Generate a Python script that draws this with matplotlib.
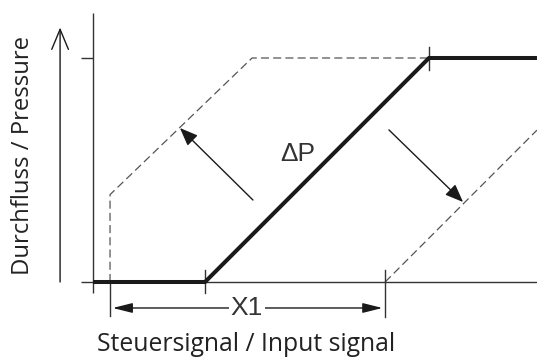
import matplotlib
matplotlib.use("Agg")
import matplotlib.pyplot as plt

plt.rcParams['lines.scale_dashes'] = False

# Characteristic curve data (input signal -> pressure, arbitrary units 0..100)
solid_x = [0, 50, 150, 198.2]
solid_y = [0, 0, 100, 100]

dash_left_x = [7.6, 7.6, 71, 150]
dash_left_y = [0, 39, 100, 100]

dash_right_x = [130.4, 198.2]
dash_right_y = [0, 67.8]

x1_start, x1_end = 7.6, 130.4
tick_positions = [50, 150]

ylabel = "Durchfluss / Pressure"
xlabel = "Steuersignal / Input signal"
curve_label = "ΔP"
dim_label = "X1"

W, H = 537, 360
fig = plt.figure(figsize=(W / 100, H / 100), dpi=100)
ax = fig.add_axes([0, 0, 1, 1])
ax.set_xlim(-41.52, 198.21)
ax.set_ylim(-34.82, 125.89)
ax.axis('off')

axis_col = '#333333'
# Axes lines
ax.plot([0, 0], [-4.9, 120], color=axis_col, lw=1.0, solid_capstyle='butt')
ax.plot([-5.4, 198.2], [0, 0], color=axis_col, lw=1.0, solid_capstyle='butt')
ax.plot([-5.4, 0], [100, 100], color=axis_col, lw=1.0, solid_capstyle='butt')

# Dashed shifted curves
ax.plot(dash_left_x, dash_left_y, color='#555555', lw=0.9, dashes=(5.8, 3.0))
ax.plot(dash_right_x, dash_right_y, color='#555555', lw=0.9, dashes=(5.8, 3.0))

# Main curve
ax.plot(solid_x, solid_y, color='#1a1a1a', lw=2.9, solid_joinstyle='miter',
        solid_capstyle='butt', zorder=3)

# Ticks on main curve
ax.plot([tick_positions[0]] * 2, [5.4, -4.9], color=axis_col, lw=1.0)
ax.plot([tick_positions[1]] * 2, [104.9, 94.6], color=axis_col, lw=1.0)

# X1 extension lines
ax.plot([x1_start] * 2, [0, -15.2], color=axis_col, lw=1.0)
ax.plot([x1_end] * 2, [5.4, -15.6], color=axis_col, lw=1.0)

# Dimension arrow
dim_y = -11.6
ax.annotate('', xy=(x1_start + 1.2, dim_y), xytext=((x1_start + x1_end) / 2, dim_y),
            arrowprops=dict(arrowstyle='-|>,head_length=0.6,head_width=0.15',
                            mutation_scale=20, color='#1a1a1a', lw=1.0,
                            shrinkA=0, shrinkB=0))
ax.annotate('', xy=(x1_end - 1.2, dim_y), xytext=((x1_start + x1_end) / 2, dim_y),
            arrowprops=dict(arrowstyle='-|>,head_length=0.6,head_width=0.15',
                            mutation_scale=20, color='#1a1a1a', lw=1.0,
                            shrinkA=0, shrinkB=0))
ax.text(68.75, dim_y, dim_label, fontsize=19, family='Liberation Sans',
        color='#333333', ha='center', va='center', zorder=5,
        bbox=dict(facecolor='white', edgecolor='none', pad=1.5))

# Shift arrows
ax.annotate('', xy=(38.8, 68.75), xytext=(71.4, 36.6),
            arrowprops=dict(arrowstyle='-|>,head_length=0.55,head_width=0.22',
                            mutation_scale=20, color='#1a1a1a', lw=1.0,
                            shrinkA=0, shrinkB=0))
ax.annotate('', xy=(165.2, 35.7), xytext=(132.1, 67.9),
            arrowprops=dict(arrowstyle='-|>,head_length=0.55,head_width=0.22',
                            mutation_scale=20, color='#1a1a1a', lw=1.0,
                            shrinkA=0, shrinkB=0))

# Y-direction arrow (open head)
ax.annotate('', xy=(-14.7, 113.6), xytext=(-14.7, 0),
            arrowprops=dict(arrowstyle='->,head_length=0.72,head_width=0.3',
                            mutation_scale=20, color='#1a1a1a', lw=1.0,
                            shrinkA=0, shrinkB=0))

# Curve label
ax.text(91.5, 57, curve_label, fontsize=19, family='Liberation Sans',
        color='#333333', ha='center', va='center')

# Axis labels
ax.text(-31.2, 56.5, ylabel, fontsize=17.2, family='Open Sans', rotation=90,
        color='#222222', ha='center', va='center')
ax.text(68.3, -28.1, xlabel, fontsize=17.8, family='Open Sans',
        color='#222222', ha='center', va='center')

fig.savefig('out.png', dpi=100)
